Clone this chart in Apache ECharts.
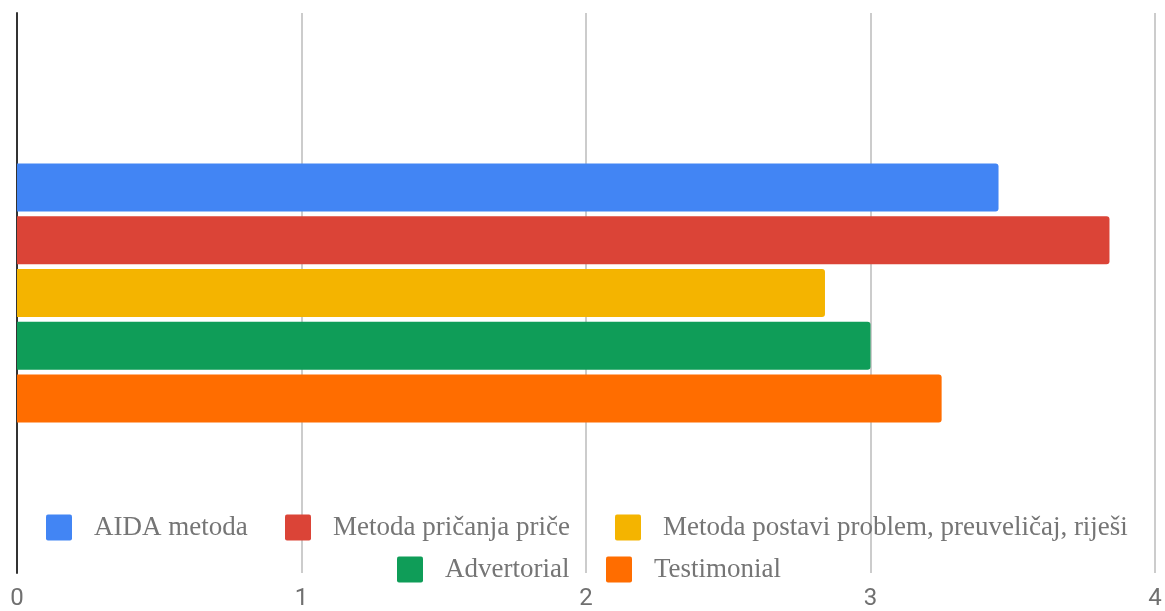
<!DOCTYPE html>
<html>
<head>
<meta charset="utf-8">
<script src="https://cdn.jsdelivr.net/npm/echarts@6/dist/echarts.min.js"></script>
<style>
  html, body { margin: 0; padding: 0; background: #fff; }
  #main { width: 1165px; height: 611px; }
</style>
</head>
<body>
<div id="main"></div>
<script>
// one category, five series
const categories = [''];
const seriesNames = [
  'AIDA metoda',
  'Metoda pričanja priče',
  'Metoda postavi problem, preuveličaj, riješi',
  'Advertorial',
  'Testimonial'
];
const seriesValues = [
  [3.45],
  [3.84],
  [2.84],
  [3.0],
  [3.25]
];
const colors = ['#4285F4', '#DB4437', '#F4B400', '#0F9D58', '#FF6D00'];

// legend item spots (google-style layout, two rows)
const legendPos = [
  { left: 46, top: 514 },
  { left: 285, top: 514 },
  { left: 615, top: 514 },
  { left: 397, top: 556 },
  { left: 606, top: 556 }
];

const chart = echarts.init(document.getElementById('main'));

// square with small rounded corners
const squareIcon = 'path://M2,0H24Q26,0 26,2V24Q26,26 24,26H2Q0,26 0,24V2Q0,0 2,0Z';

const legends = seriesNames.map((name, i) => ({
  data: [name],
  left: legendPos[i].left,
  top: legendPos[i].top,
  padding: 0,
  icon: squareIcon,
  itemWidth: 26,
  itemHeight: 26,
  selectedMode: false,
  textStyle: {
    fontFamily: 'Liberation Serif',
    fontSize: 27,
    lineHeight: 27,
    color: '#757575',
    padding: [0, 0, 0, 17]
  }
}));

const option = {
  animation: false,
  color: colors,
  legend: legends,
  grid: { left: 17, right: 10, top: 13, bottom: 33 },
  xAxis: {
    type: 'value',
    min: 0,
    max: 4,
    interval: 1,
    axisLine: { show: false },
    axisTick: { show: false },
    axisLabel: {
      fontFamily: 'Roboto',
      fontSize: 24,
      color: '#707070',
      margin: 14
    },
    splitLine: { lineStyle: { color: '#cccccc', width: 2 } }
  },
  yAxis: {
    type: 'category',
    data: categories,
    axisLine: { show: true, lineStyle: { color: '#333', width: 2 } },
    axisTick: { show: false },
    axisLabel: { show: false }
  },
  series: seriesNames.map((name, i) => ({
    name: name,
    type: 'bar',
    data: seriesValues[i],
    barWidth: 48,
    barGap: '10%',
    itemStyle: { color: colors[i], borderRadius: [0, 3, 3, 0] }
  }))
};

chart.setOption(option);
</script>
</body>
</html>
